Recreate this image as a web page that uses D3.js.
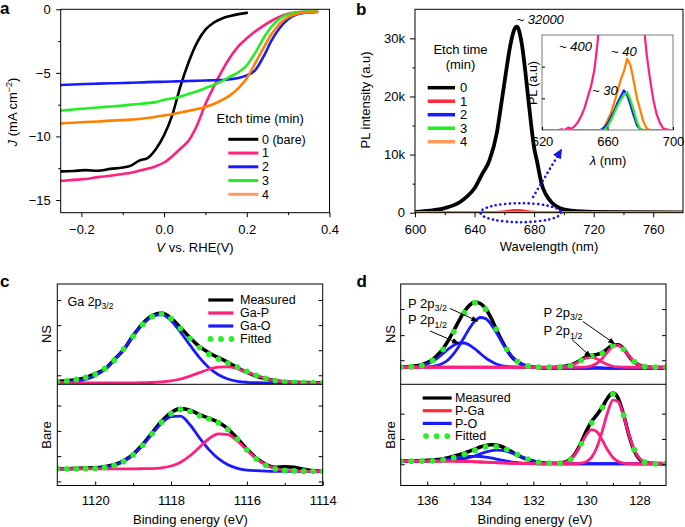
<!DOCTYPE html>
<html><head><meta charset="utf-8">
<script src="https://cdn.jsdelivr.net/npm/d3@7/dist/d3.min.js"></script>
<style>html,body{margin:0;padding:0;background:#fff;}svg{display:block;}</style>
</head><body>
<svg id="fig" width="685" height="527"></svg>
<script>
// ================= DATA =================
// Panel a : J–V curves
const aV  = [-0.25,-0.22,-0.19,-0.16,-0.13,-0.10,-0.08,-0.06,-0.04,-0.02,0.00,0.02,0.04,0.06,0.08,0.10,0.12,0.14,0.16,0.18,0.20,0.22,0.24,0.26,0.28,0.30,0.32,0.34,0.37];
const aJ0 = [-12.75,-12.72,-12.65,-12.7,-12.55,-12.45,-12.3,-11.9,-11.7,-11.0,-9.9,-8.3,-6.0,-4.1,-2.6,-1.6,-1.05,-0.72,-0.52,-0.38,-0.28,null,null,null,null,null,null,null,null];
const aJ1 = [-13.5,-13.42,-13.35,-13.2,-13.1,-12.95,-12.85,-12.7,-12.55,-12.35,-12.05,-11.55,-10.95,-10.3,-9.1,-7.45,-6.1,-4.85,-3.75,-2.9,-2.28,-1.75,-1.3,-0.9,-0.58,-0.36,-0.24,-0.2,-0.18];
const aJ2 = [-5.96,-5.92,-5.88,-5.85,-5.82,-5.8,-5.78,-5.76,-5.73,-5.71,-5.7,-5.68,-5.66,-5.64,-5.62,-5.6,-5.58,-5.56,-5.5,-5.4,-5.2,-4.8,-3.75,-2.45,-1.45,-0.78,-0.42,-0.26,-0.2];
const aJ3 = [-7.98,-7.88,-7.8,-7.72,-7.65,-7.58,-7.5,-7.45,-7.38,-7.3,-7.12,-7.0,-6.85,-6.65,-6.45,-6.2,-5.95,-5.65,-5.3,-4.95,-4.4,-3.45,-2.3,-1.35,-0.72,-0.4,-0.25,-0.18,-0.15];
const aJ4 = [-8.97,-8.92,-8.87,-8.82,-8.76,-8.72,-8.68,-8.63,-8.55,-8.45,-8.35,-8.25,-8.12,-7.98,-7.85,-7.68,-7.45,-7.15,-6.75,-6.2,-5.43,-4.25,-3.07,-1.95,-1.12,-0.62,-0.36,-0.25,-0.2];
const aLegend = ['0 (bare)','1','2','3','4'];
const aXTicks = [-0.2,0,0.2,0.4], aXLabels = ['\u22120.2','0.0','0.2','0.4'], aXMinor = [-0.1,0.1,0.3];
const aYTicks = [0,-5,-10,-15], aYLabels = ['0','\u22125','\u221210','\u221215'], aYMinor = [-2.5,-7.5,-12.5];

// Panel b : PL spectra
const bWl0 = [600,610,620,630,635,640,645,650,655,658,661,664,666,668,669,670,672,674,676,678,680,682,685,688,692,697,705,720,750,780];
const bPL0 = [150,350,800,1800,2800,4200,6600,9000,13800,18800,24000,28800,31000,32000,31900,31200,28600,24500,19800,15200,11200,8800,5000,3100,1700,800,350,150,80,60];
const plWl = [600,620,630,632,634,636,638,640,642,644,646,648,650,652,654,656,658,660,662,664,666,668,670,672,674,676,678,680,682,684,686,688,690,692,694,696,698,700,720,740,760,780];
const pl1 = [0,0,0,0.5,0,1.5,0.8,2.5,5,9,14,21,28,38,56,85,130,190,260,330,380,400,395,350,280,200,140,95,68,47,32,19,10,4.5,1,0.5,0,0,0,0,0,0];
const pl2 = [0,0,0,0,0,0,0,0,0,0,0,0,0,0,0,0,1.5,4,8,12,17,21,25,22,16,9,3,0.5,0,0,0,0,0,0,0,0,0,0,0,0,0,0];
const pl3 = [0,0,0,0,0,0,0,0,0,0,0,0,0,0,0,0,0,2,6,10.5,15,19,22,24,19,12.5,5,0.5,0,0,0,0,0,0,0,0,0,0,0,0,0,0];
const pl4 = [0,0,0,0,0,0,0,0,0,0,0,0,0,0,0,0,2,6,10.5,17,24,31.5,37,45,41,31,20,12.5,5,1,0,0,0,0,0,0,0,0,0,0,0,0];
const bLegend = ['0','1','2','3','4'];
const bXTicks = [600,640,680,720,760], bXMinor = [620,660,700,740];
const bYTicks = [0,10000,20000,30000], bYLabels = ['0','10k','20k','30k'], bYMinor = [5000,15000,25000];
const insXTicks = [620,660,700], insYTicks = [20,40];

// Panel c : Ga 2p3/2 XPS
const eC = [1121,1120.75,1120.5,1120.25,1120,1119.75,1119.5,1119.25,1119,1118.75,1118.5,1118.25,1118,1117.75,1117.5,1117.25,1117,1116.75,1116.5,1116.25,1116,1115.75,1115.5,1115.25,1115,1114.75,1114.5,1114.25,1114];
const cNS_GaO  = [1.7,2.1,3.05,5.0,8.6,14.6,23.6,35.1,47.9,59.6,67.4,69.4,63.5,52,39,26.5,16.5,9.5,5.3,3.0,2.0,1.6,1.5,1.5,1.5,1.5,1.5,1.5,1.5];
const cNS_GaP  = [1.5,1.5,1.5,1.5,1.5,1.5,1.5,1.5,1.5,1.6,1.8,2.35,3.4,5.3,8.2,11.6,15.0,17.1,17.3,15.5,12.3,8.8,5.8,3.7,2.5,1.9,1.64,1.5,1.5];
const cNS_fit  = [2.5,3.3,4.8,6.8,10,15.5,24,35.1,47.9,59.7,67.7,70.25,65.4,55.8,45.7,36.6,30.0,25.1,21.1,17.0,12.8,8.9,5.8,3.7,2.5,1.9,1.64,1.5,1.5];
const cNS_meas = [2.8,3.6,4.5,6.5,10.5,15.0,24.5,34.5,48.5,60.5,68.5,71.0,66.0,56.5,46.5,37.5,31.5,26.5,22.0,16.5,12.0,8.0,5.5,3.6,2.3,2.0,1.7,1.5,1.5];
const cB_GaO   = [16.5,16.5,16.5,16.6,16.9,17.8,19.8,23.7,30.2,39.7,50.9,61.5,68,68.5,60,47,35.5,26.5,20.5,17,15.3,14.6,14.2,14,14,14,14,14,14];
const cB_GaP   = [16.5,16.5,16.5,16.5,16.5,16.5,16.5,16.5,16.5,16.6,16.7,17.4,19.3,23.0,29.4,37.8,46.2,51.1,50.3,44,35,26.5,20.3,16.8,15,14.4,14.1,14,14];
const cB_fit   = [16.5,16.5,16.5,16.6,16.9,17.8,19.8,23.7,30.2,39.7,51.2,62.5,70.9,75.2,73.2,68.8,65.9,62,55.4,45.8,35.3,26.3,19.9,16.4,14.8,14.4,14.1,14,14];
const cB_meas  = [16.8,16.6,16.9,17.2,17.5,18.6,20.5,24.5,30.8,40.5,52.0,63.5,72.0,76.0,74.5,70.0,66.5,62.5,56.0,46.5,36.0,27.0,21.0,18.0,18.5,18.0,16.0,14.5,14.0];
const cLegend = ['Measured','Ga-P','Ga-O','Fitted'];
const cXTicks = [1120,1118,1116,1114], cXMinor = [1119,1117,1115];
const cTopTicks = [9,34,59,84], cBotTicks = [4,29,54,79];

// Panel d : P 2p XPS
const eD = [137,136.8,136.6,136.4,136.2,136,135.8,135.6,135.4,135.2,135,134.8,134.6,134.4,134.2,134,133.8,133.6,133.4,133.2,133,132.8,132.6,132.4,132.2,132,131.8,131.6,131.4,131.2,131,130.8,130.6,130.4,130.2,130,129.8,129.6,129.4,129.2,129,128.8,128.6,128.4,128.2,128,127.8,127.6,127.4,127.2,127];
const dNS_PO32 = [17,17,17,17,17,17.3,17.9,19.0,21.1,24.8,30.5,38.2,47.2,56.2,63.2,66.6,65.5,60.1,51.8,42.6,34.1,27.4,22.6,19.6,17.9,17,16.5,16.2,16,16,16,16,16,16,16,16,16.4,16.7,16.4,16,16,16,16,16,16,16,16,16,16,16,16];
const dNS_PO12 = [17.05,17.1,17.3,17.8,18.7,20.3,22.9,26.4,30.7,35.2,39.0,41.2,41.2,39.0,35.2,30.7,26.4,22.9,20.3,18.7,17.8,17.3,17.1,17,17,16.8,16.5,16.2,16,16,16,16,16,16,16,16,16,16,16,16,16,16,16,16,16,16,16,16,16,16,16];
const dNS_PG32 = [17,17,17,17,17,17,17,17,17,17,17,17,17,17,17,17,17,17,17,17,17,17,17,17,17,17,17,17,17,17,17,17,17,17,17.1,17.4,18.4,21.0,25.8,32.3,37.7,38.8,34.8,28.4,22.6,19.2,17.7,17.2,17,17,17];
const dNS_PG12 = [17,17,17,17,17,17,17,17,17,17,17,17,17,17,17,17,17,17,17,17,17,17,17,17,17,17,17,17,17,17,17.2,17.6,18.7,20.9,23.8,26.3,26.9,25.2,22.3,19.7,18.0,17.3,17.1,17,17,17,17,17,17,17,17];
const dNS_fit  = [17.05,17.1,17.3,17.8,18.7,20.6,23.8,28.4,34.8,43.0,52.5,62.4,71.4,78.2,81.4,80.3,74.9,66.0,55.1,44.3,34.9,27.7,22.9,19.9,18.3,17.55,17.2,17.0,17.0,17.0,17.2,17.6,18.7,20.9,23.9,26.7,28.3,29.2,31.1,35.0,38.7,39.1,34.9,28.4,22.6,19.2,17.7,17.2,17,17,17];
const dNS_meas = [17.5,17.3,17.8,18.5,19.5,21.5,24.5,29.5,35.5,44.0,53.5,63.5,72.5,79.0,82.0,80.5,75.5,66.5,55.0,44.0,34.5,27.0,22.5,19.5,18.0,17.2,16.8,16.5,16.4,16.8,17.5,18.0,19.2,21.5,24.5,27.5,29.0,29.8,31.5,35.5,39.0,39.5,35.5,28.0,22.0,19.0,17.5,17.0,16.8,16.8,16.8];
const dB_PO32  = [24,24,24,24,24,24,24,24.1,24.2,24.5,24.9,25.5,26.5,27.8,29.4,31.2,33.0,34.3,35.0,34.8,33.7,32.0,29.9,27.8,25.9,24.3,23.1,22.4,22.0,21.7,21.6,21.5,21.5,21.5,21.5,21.5,21.5,21.5,21.5,21.5,21.5,21.5,21.5,21.5,21.5,21.5,21.5,21.5,21.5,21.5,21.5];
const dB_PO12  = [24,24,24,24.05,24.1,24.2,24.4,24.7,25.2,25.8,26.6,27.4,28.2,28.7,28.85,28.65,28.1,27.2,26.1,25.0,24.0,23.2,22.6,22.2,21.9,21.6,21.5,21.5,21.5,21.5,21.5,21.5,21.5,21.5,21.5,21.5,21.5,21.5,21.5,21.5,21.5,21.5,21.5,21.5,21.5,21.5,21.5,21.5,21.5,21.5,21.5];
const dB_PG32  = [24,24,24,24,24,24,24,24,24,24,24,23.9,23.8,23.6,23.4,23.2,23.0,22.8,22.6,22.4,22.2,22.0,21.9,21.8,21.7,21.6,21.5,21.5,21.5,21.5,21.5,21.5,21.5,21.6,22.0,23.6,28.1,38.0,54.0,72.3,84.3,82.8,68.8,50.4,35.4,26.8,23.1,21.9,21.6,21.5,21.5];
const dB_PG12  = [24,24,24,24,24,24,24,24,24,24,24,23.9,23.8,23.6,23.4,23.2,23.0,22.8,22.6,22.4,22.2,22.0,21.9,21.8,21.7,21.6,21.5,21.5,21.5,21.6,21.9,22.9,25.8,31.7,40.7,50.2,55.3,53.0,44.7,35.0,27.7,23.8,22.15,21.65,21.5,21.5,21.5,21.5,21.5,21.5,21.5];
const dB_fit   = [24,24,24,24.05,24.1,24.2,24.4,24.8,25.4,26.3,27.5,29.0,30.9,32.9,34.85,36.65,38.1,38.7,38.5,37.4,35.5,33.2,30.6,28.2,26.1,24.3,23.1,22.4,22.0,21.8,22.0,22.9,25.8,31.8,41.2,52.3,61.9,69.5,77.2,85.8,90.5,85.1,69.45,50.55,35.4,26.8,23.1,21.9,21.6,21.5,21.5];
const dB_meas  = [24.5,24.2,24.0,24.3,24.6,24.8,25.2,25.6,26.5,27.5,29.0,30.5,32.0,34.0,36.0,38.0,39.5,40.3,40.0,38.5,36.0,33.0,30.0,27.5,25.5,24.0,23.0,22.3,22.0,22.0,22.3,23.2,26.0,32.5,42.5,54.0,63.5,70.0,77.5,86.5,91.5,86.0,70.0,50.0,34.5,26.0,23.0,22.0,21.8,21.6,21.5];
const dLegend = ['Measured','P-Ga','P-O','Fitted'];
const dXTicks = [136,134,132,130,128], dXMinor = [135,133,131,129];
const dTopTicks = [24,49,75], dBotTicks = [21,46,71];

// ================= DRAWING =================
const FONT = '"Liberation Sans", Arial, Helvetica, sans-serif';
const COL = {k:'#000000', pink:'#ff1f7f', blue:'#1a1aff', green:'#22ee22', orange:'#ff8000', lorange:'#ff9a5c', red:'#ff2a3a', dot:'#2bee2b', dotblue:'#1515e8'};
const svg = d3.select('#fig');
const defs = svg.append('defs');
function clip(id,x,y,w,h){defs.append('clipPath').attr('id',id).append('rect').attr('x',x).attr('y',y).attr('width',w).attr('height',h);}
defs.append('marker').attr('id','ahk').attr('viewBox','0 0 10 10').attr('refX',9).attr('refY',5)
  .attr('markerWidth',7).attr('markerHeight',7).attr('markerUnits','userSpaceOnUse').attr('orient','auto')
  .append('path').attr('d','M0,1 L10,5 L0,9 z').attr('fill','#000');
defs.append('marker').attr('id','ahb').attr('viewBox','0 0 10 10').attr('refX',6).attr('refY',5)
  .attr('markerWidth',10).attr('markerHeight',10).attr('markerUnits','userSpaceOnUse').attr('orient','auto')
  .append('path').attr('d','M0,0.5 L10,5 L0,9.5 z').attr('fill',COL.dotblue);

function text(x,y,s,o={}){
  const t = svg.append('text').attr('font-family',FONT).attr('font-size',o.size||13)
    .attr('text-anchor',o.anchor||'start').attr('font-weight',o.weight||'normal')
    .attr('font-style',o.style||'normal').attr('fill',o.fill||'#000');
  if(o.rotate) t.attr('transform',`translate(${x},${y}) rotate(${o.rotate})`); else t.attr('x',x).attr('y',y);
  if(s!==null) t.text(s);
  return t;
}
function axisG(gen,tx,ty,fs){
  const g = svg.append('g').attr('transform',`translate(${tx},${ty})`).call(gen);
  g.select('.domain').remove();
  g.selectAll('.tick line').attr('stroke','#000').attr('stroke-width',1);
  g.selectAll('.tick text').attr('font-family',FONT).attr('font-size',fs||13).attr('fill','#000');
  return g;
}
function frame(x0,y0,x1,y1,stroke){
  svg.append('rect').attr('x',x0).attr('y',y0).attr('width',x1-x0).attr('height',y1-y0)
    .attr('fill','none').attr('stroke',stroke||'#000').attr('stroke-width',1);
}
function pathOf(g,xs,ys,xS,yS,color,w,curve){
  const pts = xs.map((x,i)=>[x,ys[i]]).filter(p=>p[1]!==null);
  return g.append('path').attr('d',d3.line().x(p=>xS(p[0])).y(p=>yS(p[1])).curve(curve||d3.curveMonotoneX)(pts))
    .attr('fill','none').attr('stroke',color).attr('stroke-width',w).attr('stroke-linejoin','round').attr('stroke-linecap','round');
}

// ---------- Panel a ----------
const A = {l:60.7,r:329.5,t:9.3,b:212.7};
const ax = d3.scaleLinear().domain([-0.25,0.4]).range([A.l,A.r]);
const ay = d3.scaleLinear().domain([-16,0]).range([A.b,A.t]);
clip('clipA',A.l,A.t,A.r-A.l,A.b-A.t);
const gA = svg.append('g').attr('clip-path','url(#clipA)');
const aSeries = [aJ0,aJ1,aJ2,aJ3,aJ4];
const aCol = [COL.k,COL.pink,COL.blue,COL.green,COL.orange];
aSeries.forEach((s,i)=>pathOf(gA,aV,s,ax,ay,aCol[i],2.6));
frame(A.l,A.t,A.r,A.b);
axisG(d3.axisBottom(ax).tickValues(aXTicks).tickFormat((d,i)=>aXLabels[i]).tickSize(4.5).tickPadding(7.5),0,A.b);
axisG(d3.axisBottom(ax).tickValues(aXMinor).tickFormat('').tickSize(2.5),0,A.b);
axisG(d3.axisLeft(ay).tickValues(aYTicks).tickFormat((d,i)=>aYLabels[i]).tickSize(4.5).tickPadding(5.5),A.l,0);
axisG(d3.axisLeft(ay).tickValues(aYMinor).tickFormat('').tickSize(2.5),A.l,0);
text(0,13.5,'a',{size:17,weight:'bold'});
{ const t=text(16.5,112,null,{anchor:'middle',rotate:-90});
  t.append('tspan').attr('font-style','italic').text('J');
  t.append('tspan').text(' (mA cm');
  t.append('tspan').attr('font-size',9).attr('dy',-5).text('\u22122');
  t.append('tspan').attr('dy',5).text(')'); }
{ const t=text(195,251.5,null,{anchor:'middle'});
  t.append('tspan').attr('font-style','italic').text('V');
  t.append('tspan').text(' vs. RHE(V)'); }
text(216.5,122.5,'Etch time (min)');
const aLegCol = [COL.k,COL.pink,COL.blue,COL.green,COL.lorange];
aLegend.forEach((s,i)=>{
  const y = 139.3+13.75*i;
  svg.append('line').attr('x1',228.3).attr('x2',258.3).attr('y1',y).attr('y2',y).attr('stroke',aLegCol[i]).attr('stroke-width',3);
  text(262,y+4.3,s,{size:12.5});
});

// ---------- Panel b ----------
const B = {l:415,r:683,t:9.3,b:212.7};
const bx = d3.scaleLinear().domain([600,780]).range([B.l,B.r]);
const by = d3.scaleLinear().domain([0,35000]).range([B.b,B.t]);
clip('clipB',B.l,B.t,B.r-B.l,B.b-B.t);
const gB = svg.append('g').attr('clip-path','url(#clipB)');
pathOf(gB,bWl0,bPL0,bx,by,COL.k,3.8);
const plSeries=[pl1,pl2,pl3,pl4];
const bMainCol=[COL.red,COL.blue,COL.green,COL.orange];
plSeries.forEach((s,i)=>pathOf(gB,plWl,s,bx,by,bMainCol[i],2.8));
frame(B.l,B.t,B.r,B.b);
axisG(d3.axisBottom(bx).tickValues(bXTicks).tickFormat(d3.format('d')).tickSize(4.5).tickPadding(7.5),0,B.b);
axisG(d3.axisBottom(bx).tickValues(bXMinor).tickFormat('').tickSize(2.5),0,B.b);
axisG(d3.axisLeft(by).tickValues(bYTicks).tickFormat((d,i)=>bYLabels[i]).tickSize(5).tickPadding(5),B.l,0);
axisG(d3.axisLeft(by).tickValues(bYMinor).tickFormat('').tickSize(2.5),B.l,0);
text(356,15,'b',{size:17,weight:'bold'});
text(369.5,100,'PL intensity (a.u)',{anchor:'middle',rotate:-90});
text(549,250.5,'Wavelength (nm)',{anchor:'middle'});
text(460.5,54,'Etch time',{anchor:'middle'});
text(460.5,68.5,'(min)',{anchor:'middle'});
const bLegCol=[COL.k,COL.red,COL.blue,COL.green,COL.lorange];
bLegend.forEach((s,i)=>{
  const y=87.7+13.5*i;
  svg.append('line').attr('x1',427.7).attr('x2',455).attr('y1',y).attr('y2',y).attr('stroke',bLegCol[i]).attr('stroke-width',3.5);
  text(460,y+4.5,s);
});
text(516.5,24,'~ 32000',{style:'italic'});
// dotted ellipse + arrow
svg.append('ellipse').attr('cx',bx(671)).attr('cy',by(0)).attr('rx',bx(698)-bx(671)).attr('ry',9.5)
  .attr('fill','none').attr('stroke',COL.dotblue).attr('stroke-width',2.6).attr('stroke-dasharray','0.1 4.6').attr('stroke-linecap','round');
svg.append('line').attr('x1',bx(679.3)).attr('y1',by(2700)).attr('x2',bx(697.4)).attr('y2',by(10450))
  .attr('stroke',COL.dotblue).attr('stroke-width',2.6).attr('stroke-dasharray','0.1 4.6').attr('stroke-linecap','round')
  .attr('marker-end','url(#ahb)');
// inset
const I = {l:542,r:673,t:35,b:130};
const ix = d3.scaleLinear().domain([620,700]).range([I.l,I.r]);
const iy = d3.scaleLinear().domain([0,60]).range([I.b,I.t]);
svg.append('rect').attr('x',I.l).attr('y',I.t).attr('width',I.r-I.l).attr('height',I.b-I.t).attr('fill','#fff');
clip('clipI',I.l,I.t,I.r-I.l,I.b-I.t);
const gI = svg.append('g').attr('clip-path','url(#clipI)');
const insOrder=[0,3,1,2];
const insCol=[COL.pink,COL.blue,COL.green,COL.orange];
insOrder.forEach(i=>pathOf(gI,plWl,plSeries[i],ix,iy,insCol[i],2.2,d3.curveLinear));
frame(I.l,I.t,I.r,I.b,'#7a7a7a');
axisG(d3.axisBottom(ix).tickValues(insXTicks).tickFormat(d3.format('d')).tickSizeInner(-3).tickSizeOuter(0).tickPadding(6.4),0,I.b);
axisG(d3.axisLeft(iy).tickValues(insYTicks).tickFormat('').tickSizeInner(-3).tickSizeOuter(0),I.l,0);
text(536.5,83,'PL (a.u)',{anchor:'middle',rotate:-90,size:12.5});
{ const t=text(608,164.5,null,{anchor:'middle'});
  t.append('tspan').attr('font-style','italic').text('\u03bb');
  t.append('tspan').text(' (nm)'); }
text(559,51,'~ 400',{style:'italic'});
text(611,56,'~ 40',{style:'italic'});
text(592,94.5,'~ 30',{style:'italic'});

// ---------- Panels c & d (shared vertical layout) ----------
const TOP=284, MID=384.3, BOT=485.5;
const yT = d3.scaleLinear().domain([0,100]).range([MID,TOP]);
const yB = d3.scaleLinear().domain([0,100]).range([BOT,MID]);

function xpsSub(id,x0,x1,xS,yS,y0,y1,grid,meas,comps,fit,dotStep){
  clip(id,x0,y0,x1-x0,y1-y0);
  const g = svg.append('g').attr('clip-path',`url(#${id})`);
  pathOf(g,grid,meas,xS,yS,COL.k,3.6);
  comps.forEach(c=>pathOf(g,grid,c.v,xS,yS,c.col,2.8));
  g.selectAll(null).data(grid.map((e,i)=>[e,fit[i],i]).filter(p=>p[2]%dotStep===0)).join('circle')
    .attr('cx',p=>xS(p[0])).attr('cy',p=>yS(p[1])).attr('r',2.9).attr('fill',COL.dot);
}
function xpsFrame(x0,x1,xS,xT,xMin,topT,botT){
  frame(x0,TOP,x1,BOT);
  svg.append('line').attr('x1',x0).attr('x2',x1).attr('y1',MID).attr('y2',MID).attr('stroke','#000').attr('stroke-width',1);
  axisG(d3.axisBottom(xS).tickValues(xT).tickFormat(d3.format('d')).tickSizeInner(-4).tickSizeOuter(0).tickPadding(10.3),0,BOT);
  axisG(d3.axisBottom(xS).tickValues(xMin).tickFormat('').tickSizeInner(-2.5).tickSizeOuter(0),0,BOT);
  [[yT,topT],[yB,botT]].forEach(([s,t])=>{
    axisG(d3.axisLeft(s).tickValues(t).tickFormat('').tickSizeInner(-4).tickSizeOuter(0),x0,0);
    axisG(d3.axisRight(s).tickValues(t).tickFormat('').tickSizeInner(-4).tickSizeOuter(0),x1,0);
  });
}

// Panel c
const Cx0=57.3, Cx1=322.7;
const cx = d3.scaleLinear().domain([1121,1114]).range([Cx0,Cx1]);
xpsSub('clipCT',Cx0,Cx1,cx,yT,TOP,MID,eC,cNS_meas,[{v:cNS_GaO,col:COL.blue},{v:cNS_GaP,col:COL.pink}],cNS_fit,1);
xpsSub('clipCB',Cx0,Cx1,cx,yB,MID,BOT,eC,cB_meas,[{v:cB_GaO,col:COL.blue},{v:cB_GaP,col:COL.pink}],cB_fit,1);
xpsFrame(Cx0,Cx1,cx,cXTicks,cXMinor,cTopTicks,cBotTicks);
text(0,286.7,'c',{size:17,weight:'bold'});
text(50.7,334,'NS',{anchor:'middle',rotate:-90});
text(50.7,435,'Bare',{anchor:'middle',rotate:-90});
text(190.5,524,'Binding energy (eV)',{anchor:'middle'});
{ const t=text(67.5,305.5,null,{size:12.5});
  t.append('tspan').text('Ga 2p');
  t.append('tspan').attr('font-size',8.5).attr('dy',3.5).text('3/2'); }
const cLegCol=[COL.k,COL.pink,COL.blue,null];
cLegend.forEach((s,i)=>{
  const y=300+13*i;
  if(cLegCol[i]) svg.append('line').attr('x1',208.3).attr('x2',233.3).attr('y1',y).attr('y2',y).attr('stroke',cLegCol[i]).attr('stroke-width',3.2);
  else [210.5,221,231.5].forEach(x=>svg.append('circle').attr('cx',x).attr('cy',y).attr('r',2.9).attr('fill',COL.dot));
  text(240,y+4.3,s,{size:12.5});
});

// Panel d
const Dx0=400.7, Dx1=666;
const dx = d3.scaleLinear().domain([137,127]).range([Dx0,Dx1]);
xpsSub('clipDT',Dx0,Dx1,dx,yT,TOP,MID,eD,dNS_meas,[{v:dNS_PO12,col:COL.blue},{v:dNS_PO32,col:COL.blue},{v:dNS_PG12,col:COL.pink},{v:dNS_PG32,col:COL.pink}],dNS_fit,2);
xpsSub('clipDB',Dx0,Dx1,dx,yB,MID,BOT,eD,dB_meas,[{v:dB_PO12,col:COL.blue},{v:dB_PO32,col:COL.blue},{v:dB_PG12,col:COL.pink},{v:dB_PG32,col:COL.pink}],dB_fit,2);
xpsFrame(Dx0,Dx1,dx,dXTicks,dXMinor,dTopTicks,dBotTicks);
text(356.5,286.7,'d',{size:17,weight:'bold'});
text(395,334,'NS',{anchor:'middle',rotate:-90});
text(395,435,'Bare',{anchor:'middle',rotate:-90});
text(535,524,'Binding energy (eV)',{anchor:'middle'});
function pLabel(x,y,sub){
  const t=text(x,y,null);
  t.append('tspan').text('P 2p');
  t.append('tspan').attr('font-size',9).attr('dy',3.5).text(sub);
}
pLabel(408,307.5,'3/2');
pLabel(408,324,'1/2');
pLabel(543.5,316.5,'3/2');
pLabel(543.5,335,'1/2');
function arrow(x1,y1,x2,y2){
  svg.append('line').attr('x1',x1).attr('y1',y1).attr('x2',x2).attr('y2',y2).attr('stroke','#000').attr('stroke-width',1).attr('marker-end','url(#ahk)');
}
arrow(450,308.5,dx(133.95)-4,yT(63));
arrow(430,331,dx(134.75)-2,yT(41.5)+0.5);
arrow(583,321.5,dx(128.9)-1,yT(39.5)-1);
arrow(572,339.5,dx(129.8)-1,yT(27.5));
const dLegCol=[COL.k,COL.red,COL.blue,null];
dLegend.forEach((s,i)=>{
  const y=398+12.7*i;
  if(dLegCol[i]) svg.append('line').attr('x1',422.7).attr('x2',451.7).attr('y1',y).attr('y2',y).attr('stroke',dLegCol[i]).attr('stroke-width',3.2);
  else [426,436.7,447.3].forEach(x=>svg.append('circle').attr('cx',x).attr('cy',y).attr('r',2.9).attr('fill',COL.dot));
  text(455,y+4.3,s,{size:12.5});
});
</script>
</body></html>
